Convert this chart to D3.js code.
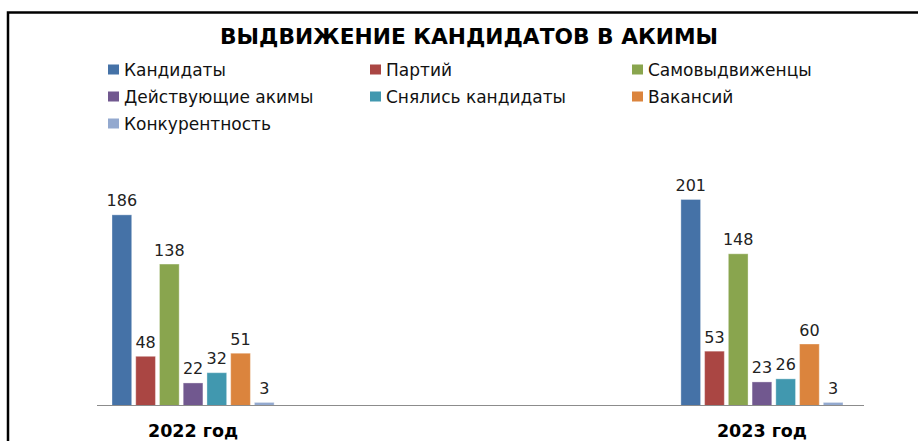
<!DOCTYPE html>
<html>
<head>
<meta charset="utf-8">
<script src="https://cdn.jsdelivr.net/npm/d3@7"></script>
<style>
  html, body { margin: 0; padding: 0; background: #fff; }
  svg { display: block; }
</style>
</head>
<body>
<div id="chart"></div>
<script>
(function () {
  'use strict';

  var years = ['2022 год', '2023 год'];
  var seriesNames = ['Кандидаты', 'Партий', 'Самовыдвиженцы', 'Действующие акимы',
    'Снялись кандидаты', 'Вакансий', 'Конкурентность'];
  var values2022 = [186, 48, 138, 22, 32, 51, 3];
  var values2023 = [201, 53, 148, 23, 26, 60, 3];
  var colors = ['#4572A7', '#AA4643', '#89A54E', '#71588F', '#4198AF', '#DB843D', '#93A9CF'];

  var width = 918, height = 441;
  var baseY = 405.5;
  var font = 'DejaVu Sans, Verdana, sans-serif';

  var svg = d3.select('#chart').append('svg')
    .attr('width', width)
    .attr('height', height);

  // frame (only top + left edges are in view)
  svg.append('path')
    .attr('d', 'M8,441V12.5H918')
    .attr('fill', 'none')
    .attr('stroke', '#000')
    .attr('stroke-width', 2.5);

  // title
  svg.append('text')
    .attr('x', 469)
    .attr('y', 43.5)
    .attr('text-anchor', 'middle')
    .attr('textLength', 498)
    .attr('lengthAdjust', 'spacingAndGlyphs')
    .style('font-family', font)
    .style('font-weight', 'bold')
    .style('font-size', '21px')
    .style('fill', '#000')
    .text('ВЫДВИЖЕНИЕ КАНДИДАТОВ В АКИМЫ');

  // legend
  var legend = svg.append('g');
  seriesNames.forEach(function (name, i) {
    var col = i % 3, row = Math.floor(i / 3);
    var lx = 108 + col * 262, ly = 76 + row * 27;
    legend.append('rect')
      .attr('x', lx)
      .attr('y', ly - 11.5)
      .attr('width', 11)
      .attr('height', 10)
      .attr('fill', colors[i]);
    legend.append('text')
      .attr('x', lx + 16)
      .attr('y', ly)
      .style('font-family', font)
      .style('font-size', '17px')
      .style('fill', '#111')
      .text(name);
  });

  var x0 = d3.scaleBand().domain(years).range([112, 843]).paddingInner(0.715);
  var x1 = d3.scaleBand().domain(seriesNames).range([0, x0.bandwidth()]).paddingInner(0.17);
  var y = d3.scaleLinear().domain([0, 200]).range([baseY, baseY - 205]);

  var table = years.map(function (yr, i) {
    var vals = i === 0 ? values2022 : values2023;
    return {
      year: yr,
      items: seriesNames.map(function (s, j) { return { name: s, value: vals[j], color: colors[j] }; })
    };
  });

  var groups = svg.selectAll('.grp')
    .data(table)
    .enter()
    .append('g')
    .attr('class', 'grp')
    .attr('transform', function (d) { return 'translate(' + x0(d.year) + ',0)'; });

  groups.selectAll('rect')
    .data(function (d) { return d.items; })
    .enter()
    .append('rect')
    .attr('x', function (d) { return x1(d.name); })
    .attr('y', function (d) { return y(d.value); })
    .attr('width', x1.bandwidth())
    .attr('height', function (d) { return baseY - y(d.value); })
    .attr('fill', function (d) { return d.color; })
    .attr('stroke', 'rgba(255,255,255,0.35)')
    .attr('stroke-width', 1);

  groups.selectAll('text.val')
    .data(function (d) { return d.items; })
    .enter()
    .append('text')
    .attr('class', 'val')
    .attr('x', function (d) { return x1(d.name) + x1.bandwidth() / 2; })
    .attr('y', function (d) { return y(d.value) - 8.5; })
    .attr('text-anchor', 'middle')
    .style('font-family', font)
    .style('font-size', '16px')
    .style('fill', '#222')
    .text(function (d) { return d.value; });

  // category axis line
  svg.append('line')
    .attr('x1', 97)
    .attr('x2', 864)
    .attr('y1', baseY)
    .attr('y2', baseY)
    .attr('stroke', '#8c8c8c')
    .attr('stroke-width', 1.2);

  // category labels
  svg.selectAll('.cat')
    .data(years)
    .enter()
    .append('text')
    .attr('class', 'cat')
    .attr('x', function (d) { return x0(d) + x0.bandwidth() / 2; })
    .attr('y', 437)
    .attr('text-anchor', 'middle')
    .style('font-family', font)
    .style('font-weight', 'bold')
    .style('font-size', '17.5px')
    .style('fill', '#000')
    .text(function (d) { return d; });
})();
</script>
</body>
</html>
